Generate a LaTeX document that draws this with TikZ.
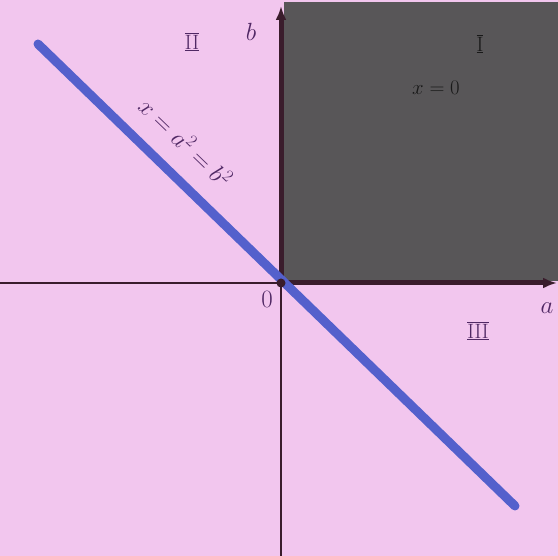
\documentclass[tikz,border=0pt]{standalone}
\usetikzlibrary{arrows.meta}
\definecolor{bgpink}{RGB}{242,198,238}
\definecolor{sqgrey}{RGB}{88,86,88}
\definecolor{linblue}{RGB}{84,96,204}
\definecolor{axisdark}{RGB}{58,28,44}
\definecolor{labdark}{RGB}{80,40,100}
\tikzset{
  thinaxis/.style={draw=axisdark, line width=1.2pt},
  thickaxis/.style={draw=axisdark, line width=5pt, -{Latex[length=14pt,width=11pt]}},
  lbl/.style={text=labdark, font=\fontsize{28}{30}\selectfont, inner sep=1pt},
  roman/.style={text=labdark, font=\fontsize{21}{23}\selectfont, inner sep=1pt}
}
\newcommand{\ovun}[1]{$\overline{\underline{\mathrm{#1}}}$}
\begin{document}
\begin{tikzpicture}[x=1pt,y=-1pt]
\useasboundingbox (0,0) rectangle (558,556);
\fill[bgpink] (0,0) rectangle (558,556);
\fill[sqgrey] (284,2) rectangle (558,281);
\coordinate (O) at (281,283);
\coordinate (W) at (0,283);
\coordinate (S) at (281,556);
\coordinate (E) at (557,283);
\coordinate (N) at (281,6);
\draw[thinaxis] (W) -- (O);
\draw[thinaxis] (O) -- (S);
\draw[thickaxis] (O) -- (E);
\draw[thickaxis] (O) -- (N);
\coordinate (L1) at (38,44);
\coordinate (L2) at (515,506);
\draw[linblue, line width=9pt, line cap=round] (L1) -- (L2);
\fill[axisdark] (O) circle (4.5pt);
\node[lbl] (lb) at (251,32) {$b$};
\node[lbl] (la) at (547,308) {$a$};
\node[lbl, font=\fontsize{24}{26}\selectfont] (lo) at (267,299) {$0$};
\node[roman] (r2) at (192,42) {\ovun{II}};
\node[roman, text=black!90] (r1) at (480,44) {\ovun{I}};
\node[roman] (r3) at (478,331) {\ovun{III}};
\node[text=black!90, font=\fontsize{22}{24}\selectfont] (x0) at (436,88) {$x=0$};
\node[lbl, font=\fontsize{23}{25}\selectfont, rotate=-44] (eq) at (186,142) {$x=a^2=b^2$};
\end{tikzpicture}
\end{document}
